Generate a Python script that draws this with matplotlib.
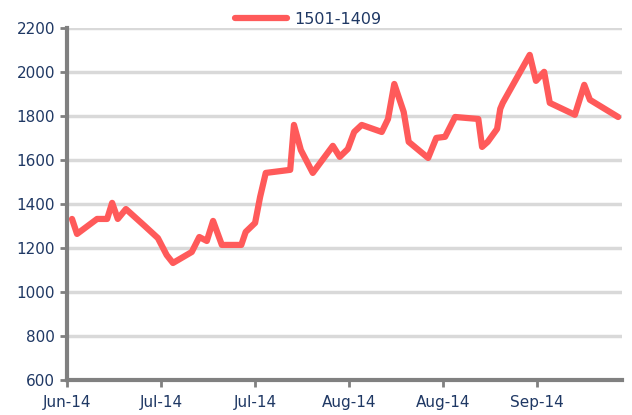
import pandas as pd
import matplotlib.pyplot as plt
import matplotlib.dates as mdates

# Spread 1501-1409 (days after 2014-06-25)
day_offset = [0.8, 1.6, 4.8, 6.4, 7.2, 8.1, 9.4, 12.4, 14.5, 15.9, 16.9, 19.9,
              21.1, 22.3, 23.3, 24.7, 27.8, 28.5, 30.0, 30.8, 31.7, 35.6, 36.2,
              37.3, 39.2, 42.4, 43.5, 44.8, 45.8, 47.0, 50.2, 51.2, 52.2, 53.7,
              54.5, 57.6, 58.9, 60.3, 61.9, 65.6, 66.2, 67.1, 68.6, 69.1, 69.5,
              73.8, 74.8, 76.1, 77.0, 81.0, 82.5, 83.4, 87.9]
spread = [1332, 1264, 1332, 1332, 1405, 1332, 1377, 1300, 1245, 1168, 1132, 1182,
          1250, 1232, 1323, 1214, 1214, 1273, 1314, 1432, 1541, 1555, 1759,
          1645, 1541, 1664, 1614, 1650, 1727, 1759, 1727, 1786, 1945, 1818,
          1682, 1609, 1700, 1705, 1795, 1786, 1659, 1682, 1741, 1832, 1859,
          2077, 1959, 2000, 1859, 1805, 1941, 1873, 1795]
series_name = '1501-1409'
tick_dates = ['2014-06-25', '2014-07-10', '2014-07-25', '2014-08-09', '2014-08-24', '2014-09-08']

start = pd.Timestamp('2014-06-25')
dates = start + pd.to_timedelta(day_offset, unit='D')

navy = '#1f3864'
fig = plt.figure(figsize=(6.32, 4.15), dpi=100)
ax = fig.add_axes([0.106, 0.084, 0.878, 0.849])

ax.plot(dates, spread, color='#ff5a5a', linewidth=4.5, solid_joinstyle='round',
        solid_capstyle='round', label=series_name, zorder=3)

ax.set_ylim(600, 2200)
ax.set_yticks(range(600, 2201, 200))
ax.set_xlim(start, start + pd.Timedelta(days=88.5))
ax.set_xticks(pd.to_datetime(tick_dates))
ax.xaxis.set_major_formatter(mdates.DateFormatter('%b-%y'))

ax.grid(axis='y', color='#d9d9d9', linewidth=2.5)
ax.set_axisbelow(True)
for side in ['top', 'right']:
    ax.spines[side].set_visible(False)
for side in ['left', 'bottom']:
    ax.spines[side].set_color('#808080')
    ax.spines[side].set_linewidth(3)
ax.tick_params(colors='#808080', width=2, length=5, labelcolor=navy, labelsize=11)
ax.tick_params(axis='x', pad=6)

ax.legend(loc='lower center', bbox_to_anchor=(0.434, 0.985), frameon=False,
          fontsize=11.5, handlelength=3.3, handletextpad=0.4,
          labelcolor=navy, borderaxespad=0)

fig.savefig('out.png', dpi=100)
